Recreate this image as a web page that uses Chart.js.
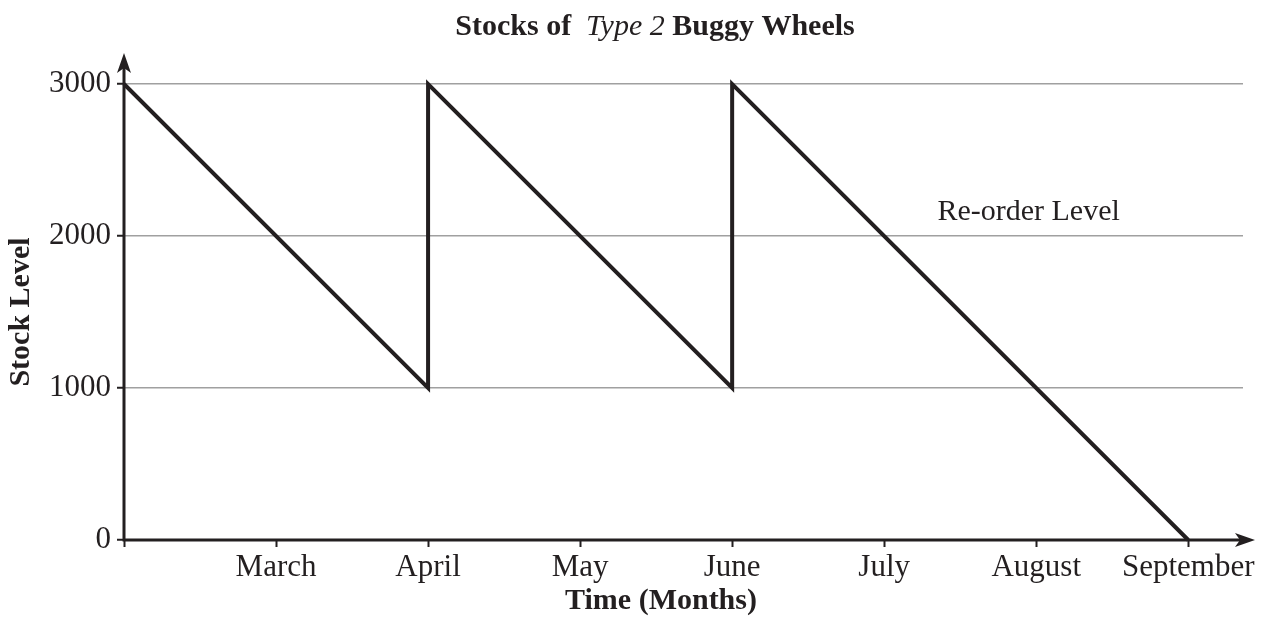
<!DOCTYPE html>
<html>
<head>
<meta charset="utf-8">
<script src="https://cdn.jsdelivr.net/npm/chart.js@4/dist/chart.umd.min.js"></script>
<style>
  html, body { margin: 0; padding: 0; background: #fff; }
  #wrap { width: 1268px; height: 621px; }
</style>
</head>
<body>
<div id="wrap"><canvas id="stock"></canvas></div>
<script>
// ── data ────────────────────────────────────────────────
const monthLabels = ['', 'March', 'April', 'May', 'June', 'July', 'August', 'September'];
const timeIdx = [0, 2, 2, 4, 4, 7];
const stockLevel = [3000, 1000, 3000, 1000, 3000, 0];
const yTicks = [0, 1000, 2000, 3000];

const INK = '#231f20';
const GRID = '#a0a0a0';

Chart.defaults.font.family = "'Liberation Serif', 'Times New Roman', serif";
Chart.defaults.color = INK;

// Axes with arrowheads, title with mixed fonts, annotation text
const decorPlugin = {
  id: 'decor',
  afterDraw(chart) {
    const { ctx: c, chartArea: { left, right, top, bottom }, scales: { x, y } } = chart;

    function arrowHead(tx, ty, dir) {
      // dir: 'up' or 'right'
      c.save();
      c.translate(tx, ty);
      if (dir === 'right') c.rotate(Math.PI / 2);
      c.fillStyle = INK;
      c.beginPath();
      c.moveTo(0, 0);
      c.lineTo(7, 20);
      c.lineTo(0, 15);
      c.lineTo(-7, 20);
      c.closePath();
      c.fill();
      c.restore();
    }

    c.save();
    c.strokeStyle = INK;
    c.lineWidth = 3;
    c.beginPath();
    c.moveTo(left, bottom + 1.5);
    c.lineTo(left, top - 25);
    c.moveTo(left - 1.5, bottom);
    c.lineTo(right + 6, bottom);
    c.stroke();
    c.restore();
    arrowHead(left, top - 31, 'up');
    arrowHead(right + 12, bottom, 'right');

    // chart title: "Stocks of  Type 2 Buggy Wheels"
    const parts = [
      ['bold 30px', 'Stocks of  '],
      ['italic 30px', 'Type 2'],
      ['bold 30px', ' Buggy Wheels'],
    ];
    const fam = "'Liberation Serif', serif";
    c.save();
    c.fillStyle = INK;
    c.textBaseline = 'alphabetic';
    let total = 0;
    parts.forEach(p => { c.font = p[0] + ' ' + fam; total += c.measureText(p[1]).width; });
    let tx = 655 - total / 2;
    parts.forEach(p => {
      c.font = p[0] + ' ' + fam;
      c.fillText(p[1], tx, 35);
      tx += c.measureText(p[1]).width;
    });

    // x-axis title
    c.font = 'bold 30px ' + fam;
    c.textAlign = 'center';
    c.fillText('Time (Months)', 661, 609);

    // annotation
    c.font = '30px ' + fam;
    c.textAlign = 'left';
    c.fillText('Re-order Level', x.getPixelForValue(5.35), y.getPixelForValue(2000) - 16);
    c.restore();
  }
};

new Chart(document.getElementById('stock'), {
  type: 'line',
  data: {
    datasets: [{
      label: 'Stock Level',
      data: timeIdx.map((t, i) => ({ x: t, y: stockLevel[i] })),
      borderColor: INK,
      borderWidth: 4,
      borderJoinStyle: 'miter',
      tension: 0,
      pointRadius: 0,
      fill: false,
      clip: false,
    }]
  },
  options: {
    responsive: true,
    maintainAspectRatio: false,
    animation: false,
    layout: { padding: { top: 84, right: 25, left: 0, bottom: 0 } },
    plugins: {
      legend: { display: false },
      tooltip: { enabled: false },
      title: { display: false },
    },
    scales: {
      x: {
        type: 'linear',
        min: 0,
        max: 7.36,
        afterBuildTicks: (s) => { s.ticks = monthLabels.map((_, i) => ({ value: i })); },
        afterFit: (s) => { s.height = 81; },
        ticks: {
          autoSkip: false,
          maxRotation: 0,
          padding: 2,
          font: { size: 31 },
          callback: (v) => monthLabels[v] || '',
        },
        grid: {
          drawOnChartArea: false,
          drawTicks: true,
          tickLength: 7,
          tickColor: INK,
          tickWidth: 2,
        },
        border: { display: false },
      },
      y: {
        min: 0,
        max: 3000,
        afterBuildTicks: (s) => { s.ticks = yTicks.map(v => ({ value: v })); },
        afterFit: (s) => { s.width = 124; },
        ticks: {
          padding: 6,
          font: { size: 31 },
          callback: (v) => String(v),
        },
        grid: {
          color: GRID,
          lineWidth: 1.5,
          tickLength: 7,
          tickColor: INK,
          tickWidth: 2,
        },
        border: { display: false },
        title: {
          display: true,
          text: 'Stock Level',
          font: { size: 30, weight: 'bold' },
          padding: { top: 3, bottom: 0 },
        },
      },
    },
  },
  plugins: [decorPlugin],
});
</script>
</body>
</html>
